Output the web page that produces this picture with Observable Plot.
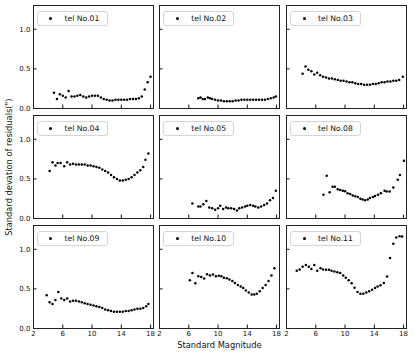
<!DOCTYPE html>
<html>
<head>
<meta charset="utf-8">
<script src="https://cdn.jsdelivr.net/npm/d3@7"></script>
<script src="https://cdn.jsdelivr.net/npm/@observablehq/plot@0.6"></script>
<style>
  body { margin: 0; background: #fff; font-family: "DejaVu Sans", sans-serif; }
  #fig { position: relative; width: 415px; height: 355px; overflow: hidden; background: #fff; }
  .panel { position: absolute; }
  .legend { position: absolute; box-sizing: border-box; border: 1px solid #d4d4d4; border-radius: 3px;
            background: rgba(255,255,255,0.85); }
  .legend .mk { position: absolute; width: 3px; height: 3px; border-radius: 50%; background: #000; }
  .legend .tx { position: absolute; font-size: 7.7px; color: #111; white-space: nowrap; line-height: 1; }
  .axlabel { position: absolute; font-size: 8.3px; color: #111; white-space: nowrap; line-height: 1; }
</style>
</head>
<body>
<div id="fig"></div>
<script>
// ---- data ----
const telNames = ["tel No.01", "tel No.02", "tel No.03", "tel No.04", "tel No.05", "tel No.08", "tel No.09", "tel No.10", "tel No.11"];
const xTicks = [2, 6, 10, 14, 18];
const yTicks = [0, 0.5, 1.0];
const xLabel = "Standard Magnitude";
const yLabel = "Standard devation of residuals(\")";

const mag01 = [4.8,5.2,5.6,6.0,6.4,6.8,7.2,7.6,8.0,8.4,8.8,9.2,9.6,10.0,10.4,10.8,11.2,11.6,12.0,12.4,12.8,13.2,13.6,14.0,14.4,14.8,15.2,15.6,16.0,16.4,16.8,17.2,17.6,18.0];
const sd01  = [0.20,0.12,0.18,0.16,0.14,0.22,0.15,0.15,0.16,0.17,0.15,0.14,0.15,0.16,0.16,0.16,0.14,0.12,0.11,0.10,0.10,0.11,0.11,0.11,0.11,0.11,0.12,0.12,0.12,0.13,0.15,0.24,0.33,0.40];

const mag02 = [7.3,7.6,7.9,8.2,8.6,8.9,9.2,9.6,10.0,10.4,10.8,11.2,11.6,12.0,12.4,12.8,13.2,13.6,14.0,14.4,14.8,15.2,15.6,16.0,16.4,16.8,17.2,17.6,17.9];
const sd02  = [0.13,0.14,0.12,0.12,0.14,0.13,0.12,0.11,0.10,0.10,0.09,0.09,0.09,0.09,0.10,0.10,0.11,0.11,0.11,0.11,0.11,0.11,0.11,0.11,0.11,0.12,0.13,0.14,0.15];

const mag03 = [4.2,4.6,5.0,5.4,5.8,6.2,6.6,7.0,7.4,7.8,8.2,8.6,9.0,9.4,9.8,10.2,10.6,11.0,11.4,11.8,12.2,12.6,13.0,13.4,13.8,14.2,14.6,15.0,15.4,15.8,16.2,16.6,17.0,17.4,17.9];
const sd03  = [0.44,0.53,0.49,0.47,0.43,0.45,0.42,0.40,0.39,0.38,0.38,0.37,0.36,0.35,0.35,0.34,0.33,0.33,0.32,0.31,0.31,0.30,0.30,0.30,0.31,0.31,0.32,0.33,0.33,0.34,0.34,0.35,0.35,0.36,0.40];

const mag04 = [4.2,4.6,5.0,5.3,5.7,6.2,6.6,7.0,7.4,7.8,8.2,8.6,9.0,9.4,9.8,10.2,10.6,11.0,11.4,11.8,12.2,12.6,13.0,13.4,13.8,14.2,14.6,15.0,15.4,15.8,16.2,16.6,17.0,17.3,17.7];
const sd04  = [0.60,0.71,0.67,0.70,0.70,0.66,0.71,0.68,0.69,0.68,0.68,0.68,0.68,0.67,0.67,0.66,0.65,0.64,0.62,0.60,0.58,0.55,0.52,0.50,0.48,0.48,0.49,0.50,0.52,0.55,0.58,0.61,0.65,0.74,0.82];

const mag05 = [6.5,7.3,7.6,8.0,8.4,8.8,9.2,9.6,10.0,10.3,10.7,11.1,11.4,11.8,12.2,12.6,12.9,13.3,13.7,14.0,14.4,14.8,15.1,15.5,15.9,16.3,16.7,17.1,17.5,17.9];
const sd05  = [0.19,0.15,0.15,0.18,0.22,0.14,0.13,0.11,0.13,0.16,0.12,0.14,0.13,0.13,0.12,0.10,0.13,0.14,0.15,0.16,0.17,0.16,0.15,0.14,0.15,0.17,0.19,0.23,0.26,0.35];

const mag08 = [7.05,7.5,7.9,8.3,8.6,9.0,9.35,9.7,10.0,10.35,10.7,11.05,11.4,11.75,12.1,12.4,12.75,13.1,13.4,13.8,14.1,14.5,14.9,15.4,15.7,16.1,16.6,17.2,17.5,18.05];
const sd08  = [0.30,0.54,0.33,0.40,0.40,0.37,0.36,0.35,0.345,0.32,0.31,0.29,0.28,0.27,0.25,0.24,0.23,0.24,0.26,0.27,0.285,0.30,0.32,0.35,0.34,0.34,0.39,0.49,0.55,0.73];

const mag09 = [3.8,4.2,4.6,5.0,5.4,5.8,6.2,6.6,7.0,7.4,7.8,8.2,8.6,9.0,9.4,9.8,10.2,10.6,11.0,11.4,11.8,12.2,12.6,13.0,13.4,13.8,14.2,14.6,15.0,15.4,15.8,16.2,16.6,17.0,17.4,17.7];
const sd09  = [0.42,0.33,0.31,0.36,0.46,0.38,0.36,0.38,0.34,0.35,0.35,0.34,0.33,0.32,0.31,0.30,0.29,0.28,0.27,0.26,0.24,0.23,0.22,0.21,0.21,0.21,0.21,0.22,0.22,0.23,0.24,0.25,0.25,0.26,0.28,0.31];

const mag10 = [6.15,6.5,6.9,7.3,7.7,8.1,8.5,8.9,9.3,9.7,10.1,10.45,10.8,11.2,11.55,11.95,12.3,12.7,13.1,13.45,13.8,14.2,14.6,14.95,15.3,15.7,16.1,16.5,16.9,17.3,17.7];
const sd10  = [0.61,0.70,0.57,0.66,0.65,0.63,0.685,0.67,0.68,0.66,0.665,0.66,0.64,0.635,0.62,0.60,0.575,0.55,0.53,0.51,0.48,0.455,0.43,0.43,0.44,0.47,0.51,0.55,0.60,0.67,0.76];

const mag11 = [3.4,3.8,4.2,4.65,5.05,5.4,5.8,6.2,6.65,7.0,7.4,7.8,8.15,8.55,8.95,9.35,9.75,10.1,10.5,10.9,11.3,11.7,12.1,12.5,12.9,13.3,13.7,14.1,14.45,14.85,15.3,15.75,16.15,16.6,17.0,17.45,17.8];
const sd11  = [0.73,0.745,0.78,0.80,0.78,0.75,0.80,0.73,0.76,0.745,0.74,0.74,0.73,0.72,0.71,0.70,0.67,0.64,0.61,0.57,0.515,0.46,0.44,0.44,0.455,0.47,0.49,0.51,0.53,0.545,0.575,0.655,0.89,1.07,1.15,1.165,1.16];

const mags = [mag01, mag02, mag03, mag04, mag05, mag08, mag09, mag10, mag11];
const sds  = [sd01, sd02, sd03, sd04, sd05, sd08, sd09, sd10, sd11];

// ---- layout ----
const L = { left: 32.5, top: 5, w: 120, h: 103, gapX: 6.75, gapY: 7 };
const fig = document.getElementById("fig");

telNames.forEach((name, i) => {
  const r = Math.floor(i / 3), c = i % 3;
  const fx = L.left + c * (L.w + L.gapX);
  const fy = L.top + r * (L.h + L.gapY);
  const ml = c === 0 ? 28 : 2, mr = 2, mt = 2, mb = r === 2 ? 16 : 2;
  const data = mags[i].map((m, k) => ({ m, s: sds[i][k] }));
  const chart = Plot.plot({
    width: L.w + ml + mr,
    height: L.h + mt + mb,
    marginLeft: ml, marginRight: mr, marginTop: mt, marginBottom: mb,
    style: { background: "transparent", fontFamily: "DejaVu Sans", fontSize: "7px", color: "#111", overflow: "visible" },
    x: { domain: [2, 18.4] },
    y: { domain: [0, 1.3] },
    marks: [
      Plot.dot(data, { x: "m", y: "s", r: 1.25, fill: "#000", stroke: null }),
      Plot.axisX({ ticks: xTicks, tickSize: -3.5, tickPadding: 6.5, label: null,
                   tickFormat: r === 2 ? (d => String(d)) : (() => "") }),
      Plot.axisY({ ticks: yTicks, tickSize: -3.5, tickPadding: 6.5, label: null,
                   tickFormat: c === 0 ? (d => d.toFixed(1)) : (() => "") }),
      Plot.frame({ stroke: "#222", strokeWidth: 1 })
    ]
  });
  const holder = document.createElement("div");
  holder.className = "panel";
  holder.style.left = (fx - ml) + "px";
  holder.style.top = (fy - mt) + "px";
  holder.appendChild(chart);
  fig.appendChild(holder);

  const lg = document.createElement("div");
  lg.className = "legend";
  lg.style.left = (fx + 4) + "px";
  lg.style.top = (fy + 6) + "px";
  lg.style.width = "71px";
  lg.style.height = "15px";
  const mk = document.createElement("div");
  mk.className = "mk";
  mk.style.left = "11.5px"; mk.style.top = "5px";
  const tx = document.createElement("div");
  tx.className = "tx";
  tx.style.left = "27px"; tx.style.top = "3px";
  tx.textContent = name;
  lg.appendChild(mk); lg.appendChild(tx);
  fig.appendChild(lg);
});

const xl = document.createElement("div");
xl.className = "axlabel";
xl.textContent = xLabel;
fig.appendChild(xl);
xl.style.left = (L.left + 1.5 * (3 * L.w + 2 * L.gapX) / 3 - xl.offsetWidth / 2) + "px";
xl.style.top = "341px";

const yl = document.createElement("div");
yl.className = "axlabel";
yl.textContent = yLabel;
fig.appendChild(yl);
const yw = yl.offsetWidth, yh = yl.offsetHeight;
const cy = L.top + (3 * L.h + 2 * L.gapY) / 2;
yl.style.left = (8 - yw / 2) + "px";
yl.style.top = (cy - yh / 2) + "px";
yl.style.transform = "rotate(-90deg)";
</script>
</body>
</html>
